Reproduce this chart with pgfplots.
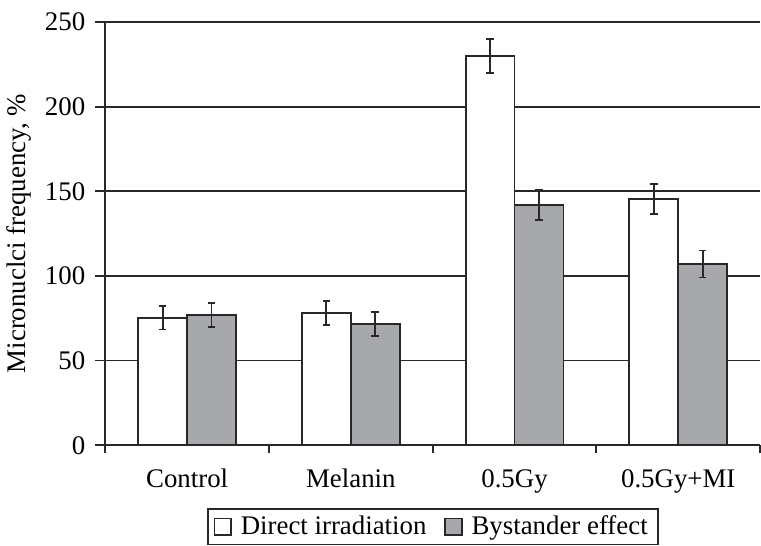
\documentclass[border=0pt]{standalone}
\usepackage{fontspec}
\setmainfont{Liberation Serif}
\usepackage{pgfplots}
\pgfplotsset{compat=1.18}
\definecolor{bargray}{RGB}{167,168,172}
\definecolor{edgec}{RGB}{40,40,40}
\pgfplotstableread{
x y e
0 75.3 7
1 78.0 7
2 230.0 10
3 145.5 9
}\direct
\pgfplotstableread{
x y e
0 77.0 7
1 71.5 7
2 142.0 9
3 107.0 8
}\bystander
\begin{document}
\begin{tikzpicture}
\begin{axis}[
  name=ax,
  scale only axis,
  width=328bp, height=212bp,
  xmin=-0.5, xmax=3.5, ymin=0, ymax=250,
  axis x line*=bottom, axis y line*=left,
  axis line style={edgec, line width=0.9pt, -},
  ybar=0pt, bar width=24.5bp,
  xtick={0,1,2,3},
  xticklabels={Control,Melanin,0.5Gy,0.5Gy+MI},
  minor xtick={-0.5,0.5,1.5,2.5,3.5},
  x tick style={draw=none},
  minor x tick style={draw=edgec, line width=0.9pt},
  minor tick length=4bp,
  ytick={0,50,100,150,200,250},
  y tick style={edgec, line width=0.9pt},
  major tick length=5bp,
  tick align=outside,
  ymajorgrids,
  grid style={edgec, line width=0.9pt},
  font=\fontsize{13.5}{16}\selectfont,
  tick label style={font=\fontsize{13.5}{16}\selectfont},
  /pgf/number format/assume math mode=true,
  yticklabel style={xshift=-1.5bp},
  xticklabel style={yshift=-3.5bp},
  ylabel={Micronuclci frequency, \%},
  ylabel style={yshift=0bp},
  legend columns=2,
  legend style={at={(0.5,-0.148)}, anchor=north, draw=edgec, line width=0.9pt,
    font=\fontsize{13.5}{16}\selectfont, inner xsep=3bp, inner ysep=1.5bp,
    /tikz/every odd column/.append style={column sep=2.5bp},
    /tikz/every even column/.append style={column sep=7bp}},
  legend image code/.code={\draw[#1, line width=0.7pt] (0bp,-4.2bp) rectangle (8.4bp,4.2bp);},
  error bars/y dir=both, error bars/y explicit,
  error bars/error bar style={edgec, line width=0.9pt},
  error bars/error mark options={rotate=90, mark size=1.9bp, edgec, line width=0.9pt},
]
\addplot[fill=white, draw=edgec, line width=0.9pt] table[x=x, y=y, y error=e] {\direct};
\addlegendentry{Direct irradiation}
\addplot[fill=bargray, draw=edgec, line width=0.9pt] table[x=x, y=y, y error=e] {\bystander};
\addlegendentry{Bystander effect}
\end{axis}
\path (ax.north) ++(0,11bp) coordinate (topextra);
\end{tikzpicture}
\end{document}
